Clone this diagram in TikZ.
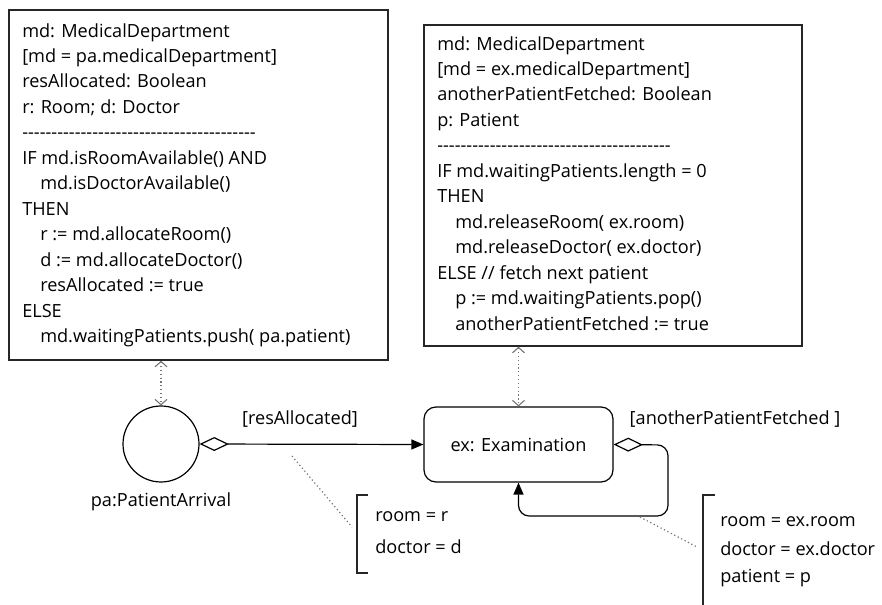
\documentclass[tikz,border=0pt]{standalone}
\usepackage{fontspec}
\setmainfont{Open Sans}
\usetikzlibrary{arrows.meta,fit}
\newcommand\dashrowx{\foreach \i in {1,...,40}{-{}}}
\newcommand\ind{\hspace*{13.5pt}}
\begin{document}
\begin{tikzpicture}[x=0.75pt,y=-0.75pt,
  txt/.style={font=\fontsize{13.6}{19.1}\selectfont, text=black},
  box/.style={draw=black!85, line width=1.2pt, inner sep=0pt},
  codetext/.style={txt, align=left, anchor=north west, inner sep=0pt},
  state/.style={draw=black, line width=0.9pt, rounded corners=9pt, inner sep=0pt, txt},
  event/.style={draw=black, line width=0.9pt, circle, minimum size=57pt, inner sep=0pt},
  trans/.style={draw=black, line width=0.9pt, {Diamond[open,length=22pt,width=10.5pt]}-{Triangle[length=9pt,width=7.5pt]}},
  assoc/.style={draw=black!55, line width=0.9pt, dotted, {Straight Barb[length=4pt,width=9pt,line width=0.8pt]}-{Straight Barb[length=4pt,width=9pt,line width=0.8pt]}},
  note/.style={draw=black!55, line width=0.9pt, dotted},
  brack/.style={draw=black!85, line width=1pt},
  lbl/.style={txt, inner sep=0pt}
]
\useasboundingbox (0,0) rectangle (882,605);

% left rule box
\coordinate (lbnw) at (9,10);
\coordinate (lbse) at (388,360);
\node[box, fit=(lbnw)(lbse)] (lb) {};
\node[codetext] (lbt) at (22,23) {md: MedicalDepartment\\
{[}md = pa.medicalDepartment{]}\\
resAllocated: Boolean\\
r: Room; d: Doctor\\
\dashrowx\\
IF md.isRoomAvailable() AND\\
\ind md.isDoctorAvailable()\\
THEN\\
\ind r := md.allocateRoom()\\
\ind d := md.allocateDoctor()\\
\ind resAllocated := true\\
ELSE\\
\ind md.waitingPatients.push( pa.patient)};

% right rule box
\coordinate (rbnw) at (424,25);
\coordinate (rbse) at (802,346);
\node[box, fit=(rbnw)(rbse)] (rb) {};
\node[codetext] (rbt) at (437,36) {md: MedicalDepartment\\
{[}md = ex.medicalDepartment{]}\\
anotherPatientFetched: Boolean\\
p: Patient\\
\dashrowx\\
IF md.waitingPatients.length = 0\\
THEN\\
\ind md.releaseRoom( ex.room)\\
\ind md.releaseDoctor( ex.doctor)\\
ELSE // fetch next patient\\
\ind p := md.waitingPatients.pop()\\
\ind anotherPatientFetched := true};

% event circle
\node[event] (pa) at (161,444) {};
\node[lbl] (palbl) at (161,502) {pa:PatientArrival};

% examination activity
\coordinate (exnw) at (424,407);
\coordinate (exse) at (613,482);
\node[state, fit=(exnw)(exse)] (ex) {};
\node[lbl] (extxt) at (ex.center) {ex: Examination};

% rule associations
\draw[assoc] (pa.north |- lb.south) -- (pa.north);
\draw[assoc] (ex.north |- rb.south) -- (ex.north);

% transitions
\draw[trans] (pa.east) -- (ex.west);
\node[lbl] (l1) at (300,419) {{[}resAllocated{]}};

\coordinate (loopA) at (668,445);
\coordinate (loopB) at (668,516);
\draw[trans, rounded corners=8pt] (ex.east) -- (loopA) -- (loopB) -- (ex.south |- loopB) -- (ex.south);
\node[lbl] (l2) at (735,419) {{[}anotherPatientFetched {]}};

% parameter assignments 1
\coordinate (n1a) at (292,456);
\coordinate (n1b) at (352,527);
\draw[note] (n1a) -- (n1b);
\coordinate (b1t) at (368,495);
\coordinate (b1b) at (368,573);
\draw[brack] (b1t) -- (357,495) -- (357,573) -- (b1b);
\node[lbl, anchor=west] (p1a) at (375,517) {room = r};
\node[lbl, anchor=west] (p1b) at (375,547) {doctor = d};

% parameter assignments 2
\coordinate (n2a) at (640,517);
\coordinate (n2b) at (697,547);
\draw[note] (n2a) -- (n2b);
\coordinate (b2t) at (715,495);
\coordinate (b2b) at (703,605);
\draw[brack] (b2t) -- (703,495) -- (b2b);
\node[lbl, anchor=west] (p2a) at (720,522) {room = ex.room};
\node[lbl, anchor=west] (p2b) at (720,549) {doctor = ex.doctor};
\node[lbl, anchor=west] (p2c) at (720,578) {patient = p};
\end{tikzpicture}
\end{document}
